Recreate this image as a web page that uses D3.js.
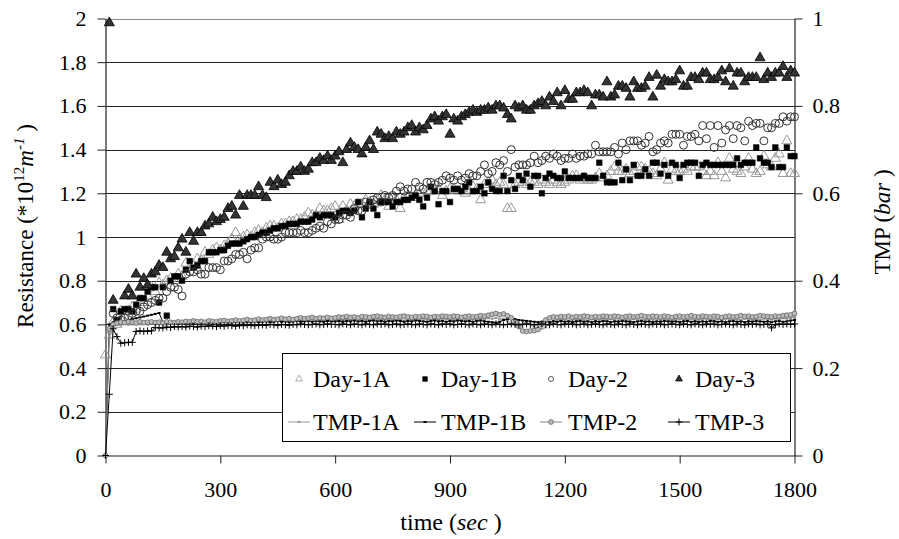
<!DOCTYPE html>
<html><head><meta charset="utf-8">
<script src="https://cdn.jsdelivr.net/npm/d3@7"></script>
<style>
body{margin:0;background:#fff}
svg{display:block}
text{font-family:"Liberation Serif","Times New Roman",serif;fill:#000}
</style>
</head><body><svg id="c" width="899" height="539"></svg>
<script>
// ---------- data ----------
const time=[0,10,20,30,40,50,60,70,80,90,
100,110,120,130,140,150,160,170,180,190,
200,210,220,230,240,250,260,270,280,290,
300,310,320,330,340,350,360,370,380,390,
400,410,420,430,440,450,460,470,480,490,
500,510,520,530,540,550,560,570,580,590,
600,610,620,630,640,650,660,670,680,690,
700,710,720,730,740,750,760,770,780,790,
800,810,820,830,840,850,860,870,880,890,
900,910,920,930,940,950,960,970,980,990,
1000,1010,1020,1030,1040,1050,1060,1070,1080,1090,
1100,1110,1120,1130,1140,1150,1160,1170,1180,1190,
1200,1210,1220,1230,1240,1250,1260,1270,1280,1290,
1300,1310,1320,1330,1340,1350,1360,1370,1380,1390,
1400,1410,1420,1430,1440,1450,1460,1470,1480,1490,
1500,1510,1520,1530,1540,1550,1560,1570,1580,1590,
1600,1610,1620,1630,1640,1650,1660,1670,1680,1690,
1700,1710,1720,1730,1740,1750,1760,1770,1780,1790,
1800];

const day1A=[0.46,0.55,0.61,0.60,0.66,0.63,0.66,0.68,0.67,0.71,
0.70,0.73,0.77,0.75,0.79,0.78,0.80,0.81,0.80,0.83,
0.82,0.88,0.86,0.87,0.90,0.89,0.93,0.92,0.94,0.95,
0.94,0.96,0.97,0.99,1.02,0.99,1.00,1.01,1.00,1.02,
1.03,1.02,1.04,1.05,1.05,1.04,1.06,1.06,1.07,1.07,
1.08,1.08,1.09,1.11,1.10,1.10,1.13,1.12,1.12,1.13,
1.14,1.08,1.14,1.12,1.15,1.14,1.15,1.15,1.17,1.16,
1.15,1.17,1.19,1.17,1.14,1.18,1.17,1.13,1.18,1.19,
1.18,1.19,1.20,1.20,1.21,1.21,1.21,1.22,1.19,1.21,
1.22,1.22,1.21,1.22,1.20,1.21,1.23,1.22,1.17,1.24,
1.25,1.26,1.24,1.25,1.24,1.13,1.13,1.24,1.25,1.25,
1.24,1.25,1.25,1.24,1.26,1.25,1.24,1.26,1.25,1.24,
1.25,1.26,1.28,1.28,1.26,1.27,1.26,1.26,1.27,1.29,
1.27,1.28,1.30,1.32,1.30,1.30,1.31,1.29,1.30,1.32,
1.32,1.31,1.30,1.29,1.28,1.31,1.34,1.26,1.31,1.30,
1.30,1.31,1.30,1.32,1.32,1.32,1.30,1.28,1.30,1.28,
1.34,1.30,1.27,1.36,1.31,1.30,1.29,1.32,1.36,1.31,
1.29,1.30,1.37,1.33,1.32,1.36,1.38,1.29,1.44,1.29,
1.29];

const day1B=[null,null,0.67,0.62,0.66,0.67,0.67,0.66,0.69,0.72,
0.72,0.75,0.77,0.77,0.70,0.77,0.64,0.80,0.82,0.82,
0.80,0.85,0.89,0.86,0.87,0.89,0.89,0.93,0.93,0.93,
0.94,0.94,0.96,0.97,0.97,0.97,0.98,0.99,1.00,1.00,
1.01,1.02,1.02,1.03,1.04,1.04,1.05,1.05,1.06,1.06,
1.06,1.07,1.07,1.07,1.08,1.10,1.09,1.10,1.10,1.10,
1.09,1.11,1.12,1.12,1.11,1.12,1.16,1.09,1.13,1.16,
1.13,1.10,1.16,1.16,1.16,1.14,1.16,1.16,1.17,1.17,
1.18,1.19,1.17,1.14,1.18,1.23,1.21,1.15,1.21,1.21,
1.16,1.22,1.22,1.21,1.23,1.25,1.21,1.21,1.23,1.20,
1.25,1.22,1.21,1.21,1.28,1.21,1.26,1.22,1.28,1.26,
1.29,1.23,1.28,1.28,1.20,1.27,1.29,1.28,1.27,1.27,
1.30,1.27,1.27,1.27,1.27,1.28,1.27,1.27,1.27,1.34,
1.28,1.25,1.25,1.25,1.34,1.26,1.31,1.26,1.33,1.28,
1.28,1.31,1.28,1.34,1.34,1.29,1.33,1.28,1.34,1.33,
1.27,1.33,1.34,1.34,1.34,1.28,1.33,1.34,1.33,1.33,
1.33,1.33,1.33,1.33,1.33,1.36,1.33,1.34,1.34,1.34,
1.41,1.36,1.34,1.34,1.32,1.41,1.32,1.32,1.41,1.37,
1.37];

const day2=[null,null,0.65,0.63,0.62,0.63,0.64,0.65,0.66,0.66,
0.68,0.69,0.70,0.71,0.72,0.72,0.75,0.77,0.77,0.76,
0.73,0.83,0.84,0.84,0.85,0.83,0.83,0.86,0.86,0.86,
0.85,0.89,0.89,0.90,0.92,0.92,0.93,0.90,0.94,0.95,
0.95,0.99,1.00,1.00,0.99,0.99,1.00,1.02,1.02,1.02,
1.02,1.03,1.02,1.02,1.03,1.04,1.05,1.04,1.07,1.06,
1.08,1.08,1.10,1.10,1.09,1.13,1.12,1.12,1.16,1.15,
1.17,1.18,1.16,1.19,1.18,1.19,1.21,1.23,1.21,1.22,
1.22,1.25,1.23,1.22,1.25,1.25,1.24,1.25,1.26,1.28,
1.27,1.26,1.28,1.26,1.27,1.29,1.28,1.28,1.30,1.33,
1.29,1.30,1.34,1.33,1.35,1.30,1.40,1.32,1.33,1.33,
1.33,1.34,1.37,1.34,1.35,1.37,1.36,1.38,1.37,1.35,
1.36,1.36,1.38,1.36,1.37,1.37,1.38,1.38,1.42,1.39,
1.39,1.39,1.39,1.41,1.38,1.43,1.40,1.44,1.44,1.44,
1.42,1.43,1.46,1.39,1.40,1.43,1.44,1.43,1.47,1.47,
1.47,1.42,1.46,1.46,1.47,1.44,1.51,1.45,1.51,1.41,
1.51,1.43,1.49,1.51,1.45,1.51,1.50,1.44,1.53,1.51,
1.52,1.52,1.44,1.50,1.50,1.52,1.52,1.55,1.53,1.55,
1.55];

const day3=[null,1.98,0.71,null,null,0.73,0.76,0.73,0.83,0.77,
0.81,0.78,0.83,0.84,0.87,0.86,0.93,0.90,0.91,0.95,
0.99,0.93,1.02,0.98,1.02,1.02,1.05,1.06,1.09,1.07,
1.08,1.09,1.13,1.14,1.10,1.19,1.14,1.19,1.19,1.19,
1.23,1.19,1.18,1.25,1.23,1.26,1.24,1.25,1.28,1.30,
1.30,1.32,1.30,1.31,1.34,1.34,1.36,1.35,1.37,1.35,
1.37,1.39,1.34,1.40,1.43,1.41,1.40,1.38,1.41,1.44,
1.40,1.48,1.47,1.45,1.46,1.45,1.48,1.47,1.48,1.50,
1.51,1.48,1.50,1.49,1.51,1.54,1.55,1.53,1.55,1.56,
1.47,1.54,1.53,1.55,1.56,1.57,1.58,1.57,1.58,1.58,
1.59,1.58,1.60,1.60,1.59,1.56,1.54,1.60,1.59,1.60,
1.58,1.58,1.60,1.61,1.62,1.60,1.64,1.62,1.66,1.60,
1.67,1.63,1.63,1.66,1.66,1.67,1.66,1.60,1.65,1.65,
1.64,1.71,1.64,1.65,1.69,1.69,1.68,1.64,1.71,1.68,
1.68,1.69,1.73,1.64,1.74,1.69,1.72,1.71,1.71,1.72,
1.76,1.69,1.69,1.73,1.73,1.72,1.75,1.75,1.72,1.72,
1.73,1.76,1.71,1.77,1.69,1.75,1.75,1.71,1.73,1.73,
1.73,1.82,1.72,1.75,1.73,1.75,1.75,1.78,1.73,1.76,
1.75];

const tmp1A=[0,0.270,0.295,0.300,0.298,0.301,0.299,0.300,0.302,0.300,
0.301,0.299,0.302,0.300,0.301,0.303,0.300,0.302,0.301,0.303,
0.302,0.304,0.302,0.303,0.305,0.303,0.304,0.302,0.305,0.304,
0.303,0.305,0.306,0.304,0.305,0.307,0.305,0.306,0.304,0.307,
0.306,0.305,0.307,0.308,0.306,0.307,0.309,0.307,0.308,0.306,
0.308,0.310,0.308,0.309,0.307,0.310,0.309,0.308,0.310,0.311,
0.309,0.311,0.310,0.312,0.309,0.311,0.310,0.312,0.311,0.309,
0.311,0.312,0.310,0.311,0.313,0.310,0.312,0.311,0.309,0.312,
0.311,0.310,0.312,0.313,0.311,0.310,0.312,0.311,0.313,0.312,
0.310,0.312,0.311,0.313,0.312,0.310,0.312,0.311,0.313,0.312,
0.314,0.313,0.315,0.312,0.313,0.308,0.300,0.298,0.300,0.302,
0.305,0.300,0.295,0.292,0.290,0.293,0.300,0.308,0.311,0.310,
0.312,0.309,0.311,0.310,0.312,0.311,0.309,0.312,0.310,0.311,
0.313,0.310,0.312,0.311,0.309,0.312,0.311,0.310,0.312,0.313,
0.311,0.310,0.312,0.311,0.313,0.310,0.312,0.311,0.309,0.312,
0.311,0.313,0.310,0.312,0.311,0.310,0.312,0.313,0.311,0.310,
0.312,0.311,0.313,0.312,0.310,0.312,0.311,0.313,0.312,0.310,
0.312,0.311,0.313,0.312,0.311,0.313,0.312,0.314,0.313,0.315,
0.316];

const tmp1B=[0,0.300,0.305,0.303,0.306,0.308,0.310,0.312,0.314,0.316,
0.318,0.320,0.322,0.324,0.326,0.305,0.303,0.304,0.302,0.304,
0.303,0.305,0.304,0.303,0.305,0.304,0.306,0.304,0.305,0.303,
0.305,0.306,0.304,0.305,0.306,0.305,0.304,0.306,0.305,0.307,
0.305,0.306,0.307,0.305,0.306,0.308,0.306,0.307,0.305,0.307,
0.308,0.306,0.307,0.308,0.306,0.308,0.307,0.306,0.308,0.307,
0.307,0.308,0.306,0.308,0.307,0.309,0.307,0.308,0.306,0.308,
0.309,0.307,0.308,0.306,0.308,0.307,0.309,0.308,0.306,0.308,
0.307,0.309,0.308,0.307,0.306,0.308,0.309,0.307,0.308,0.306,
0.308,0.307,0.309,0.308,0.307,0.308,0.306,0.308,0.309,0.307,
0.306,0.305,0.304,0.306,0.310,0.312,0.313,0.312,0.310,0.309,
0.308,0.307,0.306,0.305,0.306,0.307,0.305,0.307,0.306,0.308,
0.306,0.307,0.305,0.307,0.308,0.306,0.307,0.305,0.307,0.306,
0.308,0.307,0.305,0.307,0.306,0.308,0.307,0.306,0.305,0.307,
0.308,0.306,0.307,0.305,0.307,0.306,0.308,0.307,0.306,0.307,
0.305,0.307,0.308,0.306,0.307,0.305,0.307,0.306,0.308,0.307,
0.306,0.307,0.305,0.307,0.308,0.306,0.307,0.305,0.307,0.306,
0.308,0.307,0.306,0.307,0.305,0.307,0.308,0.306,0.307,0.309,
0.310];

const tmp2=[0,0.290,0.300,0.303,0.305,0.304,0.306,0.305,0.303,0.306,
0.304,0.305,0.306,0.304,0.305,0.303,0.306,0.305,0.304,0.306,
0.305,0.307,0.306,0.308,0.306,0.307,0.305,0.308,0.307,0.306,
0.308,0.309,0.307,0.308,0.310,0.308,0.309,0.311,0.309,0.310,
0.312,0.310,0.311,0.313,0.311,0.312,0.314,0.312,0.313,0.311,
0.313,0.315,0.313,0.314,0.316,0.313,0.315,0.314,0.316,0.314,
0.315,0.317,0.316,0.318,0.316,0.317,0.315,0.318,0.317,0.316,
0.318,0.319,0.317,0.316,0.318,0.317,0.316,0.318,0.319,0.317,
0.316,0.318,0.317,0.319,0.318,0.316,0.318,0.317,0.319,0.318,
0.317,0.319,0.318,0.316,0.318,0.319,0.317,0.318,0.320,0.319,
0.321,0.323,0.325,0.322,0.324,0.320,0.315,0.305,0.295,0.285,
0.284,0.285,0.286,0.288,0.300,0.310,0.315,0.317,0.316,0.318,
0.317,0.319,0.316,0.318,0.317,0.319,0.318,0.316,0.318,0.317,
0.319,0.318,0.317,0.319,0.318,0.316,0.318,0.319,0.317,0.318,
0.320,0.318,0.317,0.319,0.318,0.317,0.319,0.318,0.316,0.318,
0.319,0.317,0.318,0.320,0.318,0.317,0.319,0.318,0.317,0.319,
0.318,0.316,0.318,0.319,0.317,0.318,0.320,0.318,0.319,0.317,
0.318,0.320,0.319,0.318,0.317,0.319,0.318,0.320,0.321,0.322,
0.325];

const tmp3=[0,0.140,0.290,0.272,0.257,0.258,0.259,0.259,0.284,0.285,
0.284,0.285,0.285,0.293,0.292,0.292,0.294,0.293,0.295,0.294,
0.295,0.294,0.296,0.295,0.294,0.296,0.295,0.297,0.296,0.295,
0.297,0.296,0.298,0.297,0.296,0.298,0.297,0.299,0.298,0.297,
0.298,0.299,0.298,0.300,0.299,0.298,0.300,0.299,0.298,0.300,
0.299,0.301,0.300,0.299,0.300,0.301,0.299,0.300,0.301,0.300,
0.300,0.299,0.301,0.300,0.299,0.301,0.300,0.299,0.301,0.300,
0.299,0.301,0.300,0.301,0.299,0.300,0.301,0.299,0.300,0.301,
0.300,0.299,0.301,0.300,0.299,0.301,0.300,0.299,0.301,0.300,
0.301,0.299,0.300,0.301,0.300,0.299,0.301,0.300,0.299,0.301,
0.300,0.299,0.301,0.300,0.299,0.300,0.301,0.300,0.299,0.300,
0.301,0.300,0.299,0.300,0.301,0.300,0.299,0.301,0.300,0.299,
0.301,0.300,0.301,0.299,0.300,0.301,0.299,0.300,0.301,0.300,
0.299,0.301,0.300,0.299,0.301,0.300,0.299,0.301,0.300,0.299,
0.301,0.300,0.299,0.301,0.300,0.301,0.299,0.300,0.301,0.300,
0.299,0.301,0.300,0.299,0.301,0.300,0.299,0.301,0.300,0.301,
0.299,0.300,0.301,0.300,0.299,0.301,0.300,0.299,0.301,0.300,
0.301,0.299,0.300,0.301,0.292,0.299,0.301,0.300,0.301,0.300,
0.301];

const xTicks=[0,300,600,900,1200,1500,1800];
const xTickLabels=['0','300','600','900','1200','1500','1800'];
const yLeftTicks=[0,0.2,0.4,0.6,0.8,1,1.2,1.4,1.6,1.8,2];
const yLeftLabels=['0','0.2','0.4','0.6','0.8','1','1.2','1.4','1.6','1.8','2'];
const yRightTicks=[0,0.2,0.4,0.6,0.8,1];
const yRightLabels=['0','0.2','0.4','0.6','0.8','1'];
const legendLabels=['Day-1A','Day-1B','Day-2','Day-3','TMP-1A','TMP-1B','TMP-2','TMP-3'];

// ---------- drawing ----------
const FS=22, FL=24;
const svg=d3.select('#c');
const x=d3.scaleLinear().domain([0,1800]).range([105.5,794.5]);
const yL=d3.scaleLinear().domain([0,2]).range([455.5,18.5]);
const yR=d3.scaleLinear().domain([0,1]).range([455.5,18.5]);

// gridlines
svg.append('g').selectAll('line').data(yLeftTicks.slice(1)).join('line')
  .attr('x1',x(0)).attr('x2',x(1800))
  .attr('y1',d=>Math.round(yL(d))+0.5).attr('y2',d=>Math.round(yL(d))+0.5)
  .attr('stroke',d=>d===2?'#888':'#222').attr('stroke-width',1.1);

// axes
function styleAxis(g){
  g.select('.domain').attr('stroke','#222').attr('stroke-width',1.2);
  g.selectAll('.tick line').attr('stroke','#222');
  g.selectAll('.tick text').attr('font-size',FS);
}
svg.append('g')
  .call(d3.axisLeft(yL).tickValues(yLeftTicks).tickFormat((d,i)=>yLeftLabels[i]).tickSize(8).tickSizeOuter(0).tickPadding(11))
  .attr('transform',`translate(${x(0)},0)`).call(styleAxis);
svg.append('g')
  .call(d3.axisRight(yR).tickValues(yRightTicks).tickFormat((d,i)=>yRightLabels[i]).tickSize(8).tickSizeOuter(0).tickPadding(10))
  .attr('transform',`translate(${x(1800)},0)`).call(styleAxis);
svg.append('g')
  .call(d3.axisBottom(x).tickValues(xTicks).tickFormat((d,i)=>xTickLabels[i]).tickSize(8).tickSizeOuter(0).tickPadding(18))
  .attr('transform',`translate(0,${yL(0)})`).call(styleAxis);

// data helpers
const pts=(arr)=>time.map((t,i)=>({t,v:arr[i]})).filter(d=>d.v!==null&&d.v!==undefined);
const plot=svg.append('g');

function scatter(arr,sym,size,fill,stroke,sw){
  plot.append('g').selectAll('path').data(pts(arr)).join('path')
    .attr('d',d3.symbol().type(sym).size(size))
    .attr('transform',d=>`translate(${x(d.t)},${yL(d.v)})`)
    .attr('fill',fill).attr('stroke',stroke).attr('stroke-width',sw);
}
scatter(day1A,d3.symbolTriangle,44,'none','#999',1);
scatter(day1B,d3.symbolSquare,32,'#000','#000',0.5);
scatter(day2,d3.symbolCircle,50,'none','#333',1);
scatter(day3,d3.symbolTriangle,44,'#333','#000',0.8);

const line=d3.line().x(d=>x(d.t)).y(d=>yR(d.v));
function tmpLine(arr,color){
  plot.append('path').datum(pts(arr)).attr('d',line)
    .attr('fill','none').attr('stroke',color).attr('stroke-width',1);
}
tmpLine(tmp1A,'#999');
tmpLine(tmp1B,'#000');
tmpLine(tmp2,'#888');
tmpLine(tmp3,'#000');
plot.append('g').selectAll('rect').data(pts(tmp1A)).join('rect')
  .attr('x',d=>x(d.t)-1.5).attr('y',d=>yR(d.v)-1).attr('width',3).attr('height',2).attr('fill','#999');
plot.append('g').selectAll('rect').data(pts(tmp1B)).join('rect')
  .attr('x',d=>x(d.t)-1.5).attr('y',d=>yR(d.v)-1).attr('width',3).attr('height',2).attr('fill','#000');
plot.append('g').selectAll('circle').data(pts(tmp2)).join('circle')
  .attr('cx',d=>x(d.t)).attr('cy',d=>yR(d.v)).attr('r',2.4)
  .attr('fill','#bbb').attr('stroke','#666').attr('stroke-width',0.8);
plot.append('g').selectAll('path').data(pts(tmp3)).join('path')
  .attr('d',d=>{const cx=x(d.t),cy=yR(d.v);return `M${cx-3.5},${cy}H${cx+3.5}M${cx},${cy-3.5}V${cy+3.5}`;})
  .attr('stroke','#000').attr('stroke-width',1).attr('fill','none');

// legend
const lg=svg.append('g');
lg.append('rect').attr('x',282.5).attr('y',353.5).attr('width',508).attr('height',88)
  .attr('fill','#fff').attr('stroke','#000').attr('stroke-width',1);
const colText=[313,441,568,695];
const colMark=[299,425,551,679];
const row1y=379, row2y=422;
const legSym=[[d3.symbolTriangle,'none','#999'],[d3.symbolSquare,'#000','#000'],[d3.symbolCircle,'none','#333'],[d3.symbolTriangle,'#333','#000']];
legSym.forEach((s,i)=>{
  lg.append('path').attr('d',d3.symbol().type(s[0]).size(20)).attr('transform',`translate(${colMark[i]},${row1y})`)
    .attr('fill',s[1]).attr('stroke',s[2]).attr('stroke-width',0.8);
  lg.append('text').attr('x',colText[i]).attr('y',row1y+8).attr('font-size',FL).text(legendLabels[i]);
});
const legLine=['#999','#000','#888','#000'];
legLine.forEach((c,i)=>{
  const cx=colMark[i];
  lg.append('line').attr('x1',cx-11).attr('x2',cx+11).attr('y1',row2y).attr('y2',row2y).attr('stroke',c).attr('stroke-width',1);
  if(i<2) lg.append('rect').attr('x',cx-1.5).attr('y',row2y-1).attr('width',3).attr('height',2).attr('fill',c);
  if(i===2) lg.append('circle').attr('cx',cx).attr('cy',row2y).attr('r',2.4).attr('fill','#bbb').attr('stroke','#666').attr('stroke-width',0.8);
  if(i===3) lg.append('path').attr('d',`M${cx-3.5},${row2y}H${cx+3.5}M${cx},${row2y-3.5}V${row2y+3.5}`).attr('stroke','#000');
  lg.append('text').attr('x',colText[i]).attr('y',row2y+8).attr('font-size',FL).text(legendLabels[i+4]);
});

// axis titles
const xt=svg.append('text').attr('x',451).attr('y',530).attr('text-anchor','middle').attr('font-size',FL);
xt.append('tspan').text('time (');
xt.append('tspan').attr('font-style','italic').text('sec');
xt.append('tspan').text(' )');

const lt=svg.append('text').attr('transform','translate(33,226) rotate(-90)').attr('text-anchor','middle').attr('font-size',FL-1);
lt.append('tspan').text('Resistance (*10');
lt.append('tspan').attr('font-size',15).attr('dy',-9).text('12');
lt.append('tspan').attr('font-style','italic').attr('dy',9).text('m');
lt.append('tspan').attr('font-style','italic').attr('font-size',15).attr('dy',-9).text('-1');
lt.append('tspan').attr('dy',9).text(' )');

const rt=svg.append('text').attr('transform','translate(890,222) rotate(-90)').attr('text-anchor','middle').attr('font-size',FL-1);
rt.append('tspan').text('TMP (');
rt.append('tspan').attr('font-style','italic').text('bar');
rt.append('tspan').text(' )');
</script>
</body></html>
